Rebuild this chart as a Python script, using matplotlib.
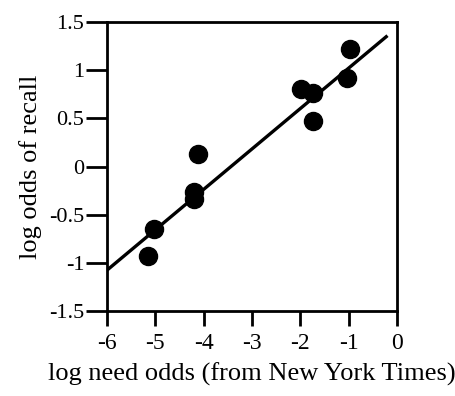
import matplotlib
matplotlib.use("Agg")
import matplotlib.pyplot as plt
import numpy as np

need_odds = [-0.98, -1.03, -1.98, -1.74, -1.74, -4.11, -4.19, -4.19, -5.02, -5.15]
recall_odds = [1.22, 0.92, 0.81, 0.76, 0.47, 0.13, -0.26, -0.34, -0.65, -0.93]
fit_x = [-6.0, -0.2]
fit_y = [-1.08, 1.36]
xticks = [-6, -5, -4, -3, -2, -1, 0]
yticks = [-1.5, -1, -0.5, 0, 0.5, 1, 1.5]
ytick_labels = ["-1.5", "-1", "-0.5", "0", "0.5", "1", "1.5"]

plt.rcParams['font.family'] = ['Liberation Serif', 'DejaVu Serif']

fig = plt.figure(figsize=(4.56, 3.96), dpi=100)
ax = fig.add_axes([0.234, 0.215, 0.637, 0.729])

ax.plot(fit_x, fit_y, color='black', lw=2.4, solid_capstyle='butt')
ax.plot(need_odds, recall_odds, 'o', color='black', ms=13, mec='black')

ax.set_xlim(-6, 0)
ax.set_ylim(-1.5, 1.5)
ax.set_xticks(xticks)
ax.set_xticklabels([str(t) for t in xticks])
ax.set_yticks(yticks)
ax.set_yticklabels(ytick_labels)

for s in ax.spines.values():
    s.set_linewidth(2.0)
ax.tick_params(axis='x', direction='out', length=11, width=2.0, labelsize=17, pad=5)
ax.tick_params(axis='y', direction='out', length=15, width=2.0, labelsize=16, pad=1)

ax.set_xlabel("log need odds (from New York Times)", fontsize=19, labelpad=6)
ax.set_ylabel("log odds of recall", fontsize=19, labelpad=5)

fig.savefig("out.png", dpi=100)
